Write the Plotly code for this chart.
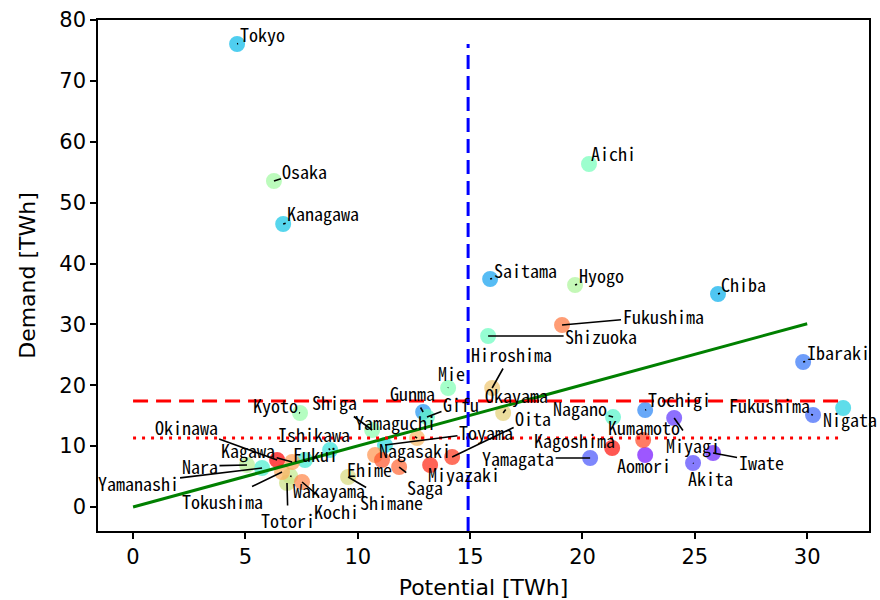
import math
import plotly.graph_objects as go

# ---------------- data ----------------
# prefectures (JIS order, Hokkaido omitted); label = text shown in the chart
prefectures = ["Aomori", "Iwate", "Miyagi", "Akita", "Yamagata", "Fukushima", "Ibaraki",
               "Tochigi", "Gunma", "Saitama", "Chiba", "Tokyo", "Kanagawa", "Niigata",
               "Toyama", "Ishikawa", "Fukui", "Yamanashi", "Nagano", "Gifu", "Shizuoka",
               "Aichi", "Mie", "Shiga", "Kyoto", "Osaka", "Hyogo", "Nara", "Wakayama",
               "Tottori", "Shimane", "Okayama", "Hiroshima", "Yamaguchi", "Tokushima",
               "Kagawa", "Ehime", "Kochi", "Fukuoka", "Saga", "Nagasaki", "Kumamoto",
               "Oita", "Miyazaki", "Kagoshima", "Okinawa"]
labels = ["Aomori", "Iwate", "Miyagi", "Akita", "Yamagata", "Fukushima", "Ibaraki",
          "Tochigi", "Gunma", "Saitama", "Chiba", "Tokyo", "Kanagawa", "Nigata",
          "Toyama", "Ishikawa", "Fukui", "Yamanashi", "Nagano", "Gifu", "Shizuoka",
          "Aichi", "Mie", "Shiga", "Kyoto", "Osaka", "Hyogo", "Nara", "Wakayama",
          "Totori", "Shimane", "Okayama", "Hiroshima", "Yamaguchi", "Tokushima",
          "Kagawa", "Ehime", "Kochi", "Fukushima", "Saga", "Nagasaki", "Kumamoto",
          "Oita", "Miyazaki", "Kagoshima", "Okinawa"]
potential = [22.79, 25.81, 24.08, 24.92, 20.34, 30.26, 29.82,
             22.79, 12.91, 15.89, 26.03, 4.63, 6.68, 31.60,
             11.21, 8.77, 7.65, 5.74, 21.36, 13.08, 15.80,
             20.29, 14.02, 10.64, 7.43, 6.27, 19.67, 5.07, 6.99,
             6.85, 9.57, 16.47, 15.98, 12.64, 6.63,
             7.08, 10.77, 7.52, 19.09, 11.84, 11.08, 22.70,
             14.20, 13.22, 21.32, 6.41]
demand = [8.54, 8.87, 14.62, 7.23, 8.05, 15.11, 23.82,
          15.93, 15.61, 37.45, 34.99, 76.06, 46.49, 16.26,
          10.18, 9.36, 7.72, 6.41, 14.78, 14.78, 28.09,
          56.34, 19.55, 12.65, 15.44, 53.55, 36.47, 6.90, 5.09,
          3.94, 4.93, 15.44, 19.55, 11.33, 5.75,
          7.39, 8.54, 4.11, 29.90, 6.57, 7.72, 11.01,
          8.21, 6.90, 9.69, 7.72]

fit_x = [0.0, 30.0]
fit_y = [0.0, 30.1]
demand_mean = 17.41
demand_median = 11.33
potential_ref = 14.91
y_min, y_max = -3.94, 80.0
x_min, x_max = -1.56, 32.75

# label offsets in pixels (layout only)
label_offsets = {
    "Aomori": (-1, 10), "Iwate": (48, 9), "Miyagi": (19, 27), "Akita": (17, 15),
    "Yamagata": (-72, 0), "Fukushima": (-44, -10), "Ibaraki": (35, -10),
    "Tochigi": (34, -11), "Gunma": (-11, -19), "Saitama": (35, -9), "Chiba": (26, -10),
    "Tokyo": (25, -10), "Kanagawa": (40, -11), "Niigata": (7, 11), "Toyama": (101, -13),
    "Ishikawa": (-16, -16), "Fukui": (11, -6), "Yamanashi": (-124, 15), "Nagano": (-33, -9),
    "Gifu": (34, -13), "Shizuoka": (113, 0), "Aichi": (24, -11), "Mie": (3, -15),
    "Shiga": (-38, -28), "Kyoto": (-25, -8), "Osaka": (31, -10), "Hyogo": (26, -10),
    "Nara": (-47, 1), "Wakayama": (39, 14), "Tottori": (1, 37), "Shimane": (43, 25),
    "Okayama": (13, -18), "Hiroshima": (19, -34), "Yamaguchi": (-22, -16),
    "Tokushima": (-60, 29), "Kagawa": (-44, -12), "Ehime": (-6, 14), "Kochi": (34, 29),
    "Fukuoka": (101, -9), "Saga": (26, 20), "Nagasaki": (33, -10), "Kumamoto": (1, -13),
    "Oita": (81, -39), "Miyazaki": (34, 9), "Kagoshima": (-38, -8), "Okinawa": (-91, -33),
}


def rainbow(t):
    r = min(1.0, max(0.0, abs(2 * t - 0.5)))
    g = min(1.0, max(0.0, math.sin(math.pi * t)))
    b = min(1.0, max(0.0, math.cos(math.pi * t / 2)))
    return "rgb(%d,%d,%d)" % (round(r * 255), round(g * 255), round(b * 255))


n_all = len(prefectures) + 1  # Hokkaido counted in colour scale
colors = [rainbow((i + 1) / (n_all - 1)) for i in range(len(prefectures))]

fig = go.Figure()
fig.add_trace(go.Scatter(
    x=potential, y=demand, mode="markers",
    marker=dict(size=14, color=colors, opacity=0.7,
                line=dict(color=colors, width=2)),
    hoverinfo="skip", showlegend=False))

fig.add_trace(go.Scatter(x=fit_x, y=fit_y, mode="lines",
                         line=dict(color="#008000", width=3), showlegend=False))
fig.add_trace(go.Scatter(x=[0, max(potential)], y=[demand_mean, demand_mean], mode="lines",
                         line=dict(color="#ff0000", width=3, dash="15px,8px"), showlegend=False))
fig.add_trace(go.Scatter(x=[0, max(potential)], y=[demand_median, demand_median], mode="lines",
                         line=dict(color="#ff0000", width=3, dash="3px,6px"), showlegend=False))
fig.add_trace(go.Scatter(x=[potential_ref, potential_ref], y=[y_min, max(demand)], mode="lines",
                         line=dict(color="#0000ff", width=3, dash="14px,7px"), showlegend=False))

label_font = dict(family="Noto Sans Mono CJK JP, Noto Sans CJK JP, DejaVu Sans Mono, monospace",
                  size=18, color="black")
annotations = []
for name, lab, px, dy in zip(prefectures, labels, potential, demand):
    ox, oy = label_offsets[name]
    annotations.append(dict(x=px, y=dy, xref="x", yref="y", ax=ox, ay=oy,
                            text=lab, showarrow=True, arrowhead=0, arrowwidth=1.6,
                            arrowcolor="black", standoff=0, font=label_font))

tick_font = dict(family="DejaVu Sans", size=21, color="black")
title_font = dict(family="DejaVu Sans", size=22, color="black")
fig.update_layout(
    width=880, height=600,
    margin=dict(l=98, r=11, t=20, b=69, autoexpand=False),
    paper_bgcolor="white", plot_bgcolor="white",
    annotations=annotations,
    xaxis=dict(range=[x_min, x_max], tickmode="array", tickvals=[0, 5, 10, 15, 20, 25, 30],
               ticks="outside", ticklen=6, tickwidth=1.5, tickcolor="black",
               showline=True, linecolor="black", linewidth=1.5, mirror=True,
               showgrid=False, zeroline=False, tickfont=tick_font, automargin=False,
               title=dict(text="Potential [TWh]", font=title_font, standoff=12)),
    yaxis=dict(range=[y_min, y_max], tickmode="array", tickvals=[0, 10, 20, 30, 40, 50, 60, 70, 80],
               ticks="outside", ticklen=6, tickwidth=1.5, tickcolor="black",
               showline=True, linecolor="black", linewidth=1.5, mirror=True,
               showgrid=False, zeroline=False, tickfont=tick_font, automargin=False,
               title=dict(text="Demand [TWh]", font=title_font, standoff=18)),
)

fig.write_html("out.html")
